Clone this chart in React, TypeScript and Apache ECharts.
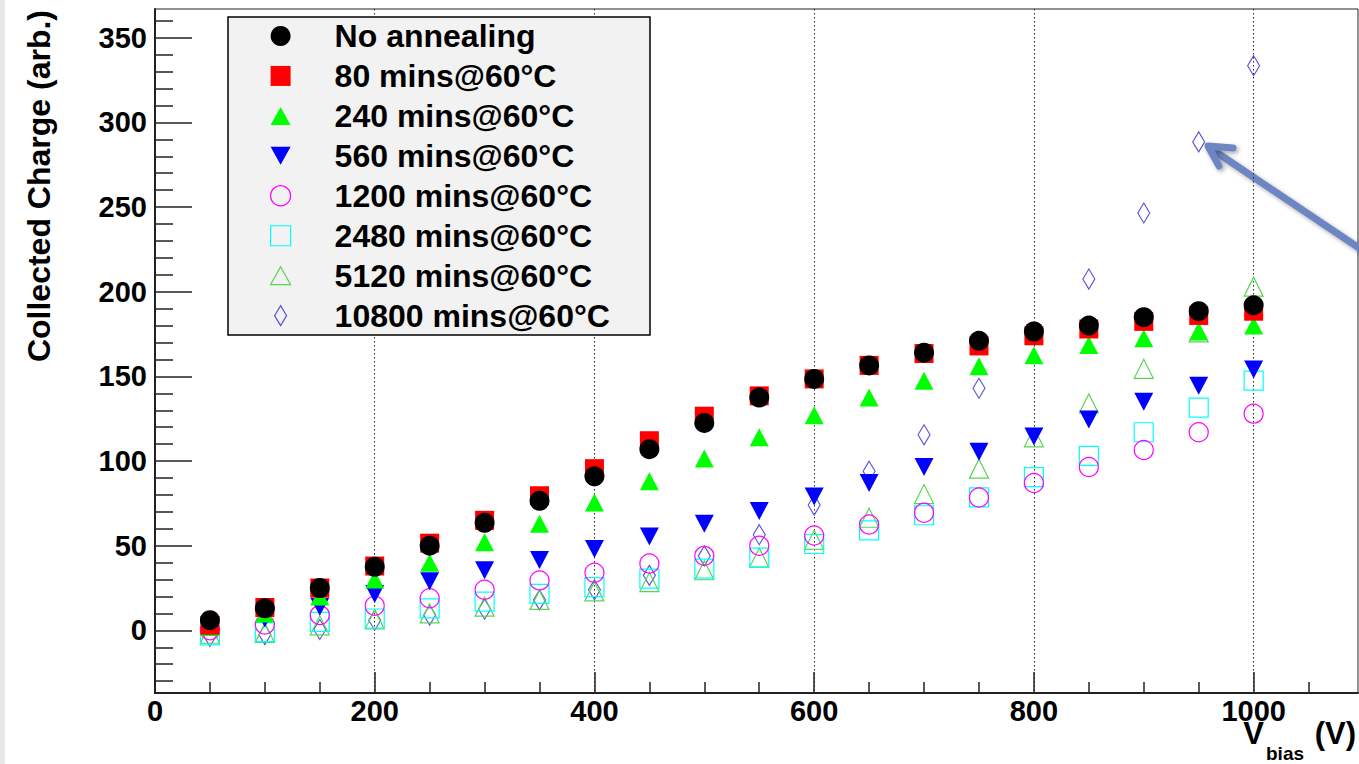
import React, { useEffect, useRef } from "react";
import * as echarts from "echarts";

const xValues = [50, 100, 150, 200, 250, 300, 350, 400, 450, 500, 550, 600, 650, 700, 750, 800, 850, 900, 950, 1000];

const noAnnealing = [6, 13, 25, 37.5, 50, 63.5, 76.5, 91, 107, 122.5, 137.5, 148.5, 156.5, 164, 171, 176.5, 180, 185, 188.5, 192];
const mins80 = [3, 13.5, 25, 38, 51.5, 65, 79.5, 95.5, 112, 126.5, 138.5, 148.5, 156.5, 163.5, 168, 174, 178, 182.5, 186, 188.5];
const mins240 = [2, 10, 20, 30, 40, 52, 63, 75.5, 88, 101.5, 114, 127, 137.5, 147.5, 156, 162.5, 168.5, 172.5, 176.5, 180];
const mins560 = [3, 7, 14, 21.5, 29, 35.5, 41.5, 48, 55.5, 63, 70.5, 79, 87, 96.5, 105.5, 114.5, 124.5, 135, 144.5, 154];
const mins1200 = [0, 3.5, 9, 14.5, 19, 24, 29.5, 34, 39.5, 44, 50, 56, 62.5, 69.5, 78.5, 87, 96.5, 106.5, 117, 128];
const mins2480 = [-3, -1, 5, 7, 13, 17, 21.5, 25.5, 30.5, 36.5, 43, 51, 59, 68, 78.5, 90.5, 103, 117, 131.5, 147.5];
const mins5120 = [-2, -1.5, 3, 6.5, 10, 14, 18, 23, 28.5, 35.5, 43, 53.5, 66.5, 80.5, 95.5, 114, 134, 154.5, 176, 203];
const mins10800 = [-3.5, -2.5, 0.5, 6, 9, 12.5, 18, 24, 32.5, 44, 56.5, 74, 94, 115.5, 143, 175, 207.5, 246.5, 288.5, 333.5];

const seriesNames = [
  "No annealing",
  "80 mins@60°C",
  "240 mins@60°C",
  "560 mins@60°C",
  "1200 mins@60°C",
  "2480 mins@60°C",
  "5120 mins@60°C",
  "10800 mins@60°C",
];
const seriesValues = [noAnnealing, mins80, mins240, mins560, mins1200, mins2480, mins5120, mins10800];

const xTickLabels = [0, 200, 400, 600, 800, 1000];
const xMinorTicks = [50, 100, 150, 250, 300, 350, 450, 500, 550, 650, 700, 750, 850, 900, 950, 1050];
const yTickLabels = [0, 50, 100, 150, 200, 250, 300, 350];
const yMinorTicks = [-30, -20, -10, 10, 20, 30, 40, 60, 70, 80, 90, 110, 120, 130, 140, 160, 170, 180, 190, 210, 220, 230, 240, 260, 270, 280, 290, 310, 320, 330, 340, 360];

const FONT = "'Liberation Sans', Arial, Helvetica, sans-serif";

const TRI_UP = "path://M10,0L20,18L0,18Z";
const TRI_DOWN = "path://M0,0L20,0L10,18Z";
const DIAMOND = "path://M6,0L12,10L6,20L0,10Z";

type MarkerStyle = {
  symbol: string;
  size: number | number[];
  color: string;
  hollow: boolean;
};

const markers: MarkerStyle[] = [
  { symbol: "circle", size: 20, color: "#000000", hollow: false },
  { symbol: "rect", size: 19, color: "#ff0000", hollow: false },
  { symbol: TRI_UP, size: [19, 18], color: "#00ff00", hollow: false },
  { symbol: TRI_DOWN, size: [19, 18], color: "#0000ff", hollow: false },
  { symbol: "circle", size: 19, color: "#ff00ff", hollow: true },
  { symbol: "rect", size: 19, color: "#00ffff", hollow: true },
  { symbol: TRI_UP, size: [19, 19], color: "#59d454", hollow: true },
  { symbol: DIAMOND, size: [12, 20], color: "#5954d8", hollow: true },
];

function styleOf(m: MarkerStyle) {
  return m.hollow
    ? { color: "rgba(0,0,0,0)", borderColor: m.color, borderWidth: 1.2, opacity: 1 }
    : { color: m.color, borderWidth: 0, opacity: 1 };
}

const labelFont = {
  fontFamily: FONT,
  fontWeight: "bold",
  fill: "#000",
};

export default function App() {
  const ref = useRef<HTMLDivElement>(null);

  useEffect(() => {
    if (!ref.current) return;
    const chart = echarts.init(ref.current, undefined, { renderer: "svg" });

    // later-listed series are drawn first so that the first ones sit on top
    const series: any[] = [];
    for (let k = seriesNames.length - 1; k >= 0; k--) {
      const m = markers[k];
      series.push({
        type: "scatter",
        name: seriesNames[k],
        data: xValues.map((x, i) => [x, seriesValues[k][i]]),
        symbol: m.symbol,
        symbolSize: m.size,
        itemStyle: styleOf(m),
        emphasis: { disabled: true },
        xAxisIndex: 0,
        yAxisIndex: 0,
      });
    }

    const option: any = {
      animation: false,
      backgroundColor: "#ffffff",
      grid: {
        left: 155,
        top: 9,
        right: 1,
        bottom: 71,
        show: true,
        borderColor: "#222",
        borderWidth: 1,
        backgroundColor: "rgba(0,0,0,0)",
      },
      legend: {
        orient: "vertical",
        left: 270,
        top: 20,
        padding: 0,
        itemWidth: 20,
        itemHeight: 20,
        itemGap: 7.95,
        selectedMode: false,
        textStyle: {
          fontFamily: FONT,
          fontWeight: "bold",
          fontSize: 32,
          color: "#000",
          padding: [0, 0, 0, 39],
        },
        data: seriesNames.map((n, k) => ({
          name: n,
          icon: markers[k].symbol,
          itemStyle: styleOf(markers[k]),
        })),
      },
      xAxis: [
        {
          type: "value",
          min: 0,
          max: 1095,
          interval: 200,
          position: "bottom",
          axisLine: { show: true, onZero: false, lineStyle: { color: "#222", width: 2 } },
          axisTick: {
            show: true,
            inside: true,
            length: 21,
            customValues: xTickLabels,
            lineStyle: { color: "#222", width: 1.5 },
          },
          axisLabel: {
            show: true,
            customValues: xTickLabels,
            formatter: (v: number) => String(v),
            fontFamily: FONT,
            fontWeight: "bold",
            fontSize: 29,
            lineHeight: 20,
            color: "#000",
            margin: 8,
          },
          splitLine: {
            show: true,
            showMinLine: false,
            lineStyle: { color: "#222", width: 1, type: [1.5, 2.5] },
          },
        },
        {
          type: "value",
          min: 0,
          max: 1095,
          position: "bottom",
          axisLine: { show: false, onZero: false },
          axisTick: {
            show: true,
            inside: true,
            length: 11,
            customValues: xMinorTicks,
            lineStyle: { color: "#222", width: 1.5 },
          },
          axisLabel: { show: false },
          splitLine: { show: false },
        },
      ],
      yAxis: [
        {
          type: "value",
          min: -37,
          max: 367,
          position: "left",
          axisLine: { show: true, onZero: false, lineStyle: { color: "#222", width: 2 } },
          axisTick: {
            show: true,
            inside: true,
            length: 37,
            customValues: yTickLabels,
            lineStyle: { color: "#222", width: 1.5 },
          },
          axisLabel: {
            show: true,
            customValues: yTickLabels,
            formatter: (v: number) => String(v),
            fontFamily: FONT,
            fontWeight: "bold",
            fontSize: 29,
            color: "#000",
            margin: 8,
          },
          splitLine: { show: false },
        },
        {
          type: "value",
          min: -37,
          max: 367,
          position: "left",
          axisLine: { show: false, onZero: false },
          axisTick: {
            show: true,
            inside: true,
            length: 18,
            customValues: yMinorTicks,
            lineStyle: { color: "#222", width: 1.5 },
          },
          axisLabel: { show: false },
          splitLine: { show: false },
        },
      ],
      graphic: [
        {
          type: "rect",
          z: 0,
          shape: { x: 0, y: 0, width: 5, height: 764 },
          style: { fill: "#e8e8e8" },
        },
        {
          type: "rect",
          z: 1,
          shape: { x: 228, y: 17, width: 422, height: 318 },
          style: { fill: "#f2f2f2", stroke: "#000", lineWidth: 1.5 },
        },
        {
          type: "text",
          z: 5,
          x: 39,
          y: 10,
          rotation: Math.PI / 2,
          style: {
            ...labelFont,
            text: "Collected Charge (arb.)",
            fontSize: 32,
            align: "right",
            verticalAlign: "middle",
          },
        },
        {
          type: "text",
          z: 5,
          x: 1264,
          y: 722,
          style: { ...labelFont, text: "V", fontSize: 31, lineHeight: 22, align: "right", verticalAlign: "top" },
        },
        {
          type: "text",
          z: 5,
          x: 1266,
          y: 745,
          style: { ...labelFont, text: "bias", fontSize: 19, lineHeight: 16, align: "left", verticalAlign: "top" },
        },
        {
          type: "text",
          z: 5,
          x: 1356,
          y: 722,
          style: { ...labelFont, text: "(V)", fontSize: 31, lineHeight: 22, align: "right", verticalAlign: "top" },
        },
        {
          type: "group",
          z: 10,
          children: [
            {
              type: "line",
              shape: { x1: 1362, y1: 250, x2: 1210, y2: 148 },
              style: {
                stroke: "#6d85c1",
                lineWidth: 7,
                lineCap: "round",
                shadowBlur: 4,
                shadowColor: "rgba(0,0,0,0.35)",
                shadowOffsetX: 2,
                shadowOffsetY: 2,
              },
            },
            {
              type: "polyline",
              shape: { points: [[1233, 148], [1208, 146], [1219, 166]] },
              style: {
                stroke: "#6d85c1",
                lineWidth: 7,
                lineCap: "round",
                lineJoin: "round",
                fill: null,
                shadowBlur: 4,
                shadowColor: "rgba(0,0,0,0.35)",
                shadowOffsetX: 2,
                shadowOffsetY: 2,
              },
            },
          ],
        },
      ],
      series,
    };

    chart.setOption(option);
    return () => chart.dispose();
  }, []);

  return (
    <div
      ref={ref}
      style={{ position: "absolute", left: 0, top: 0, width: 1359, height: 764, background: "#fff" }}
    />
  );
}
